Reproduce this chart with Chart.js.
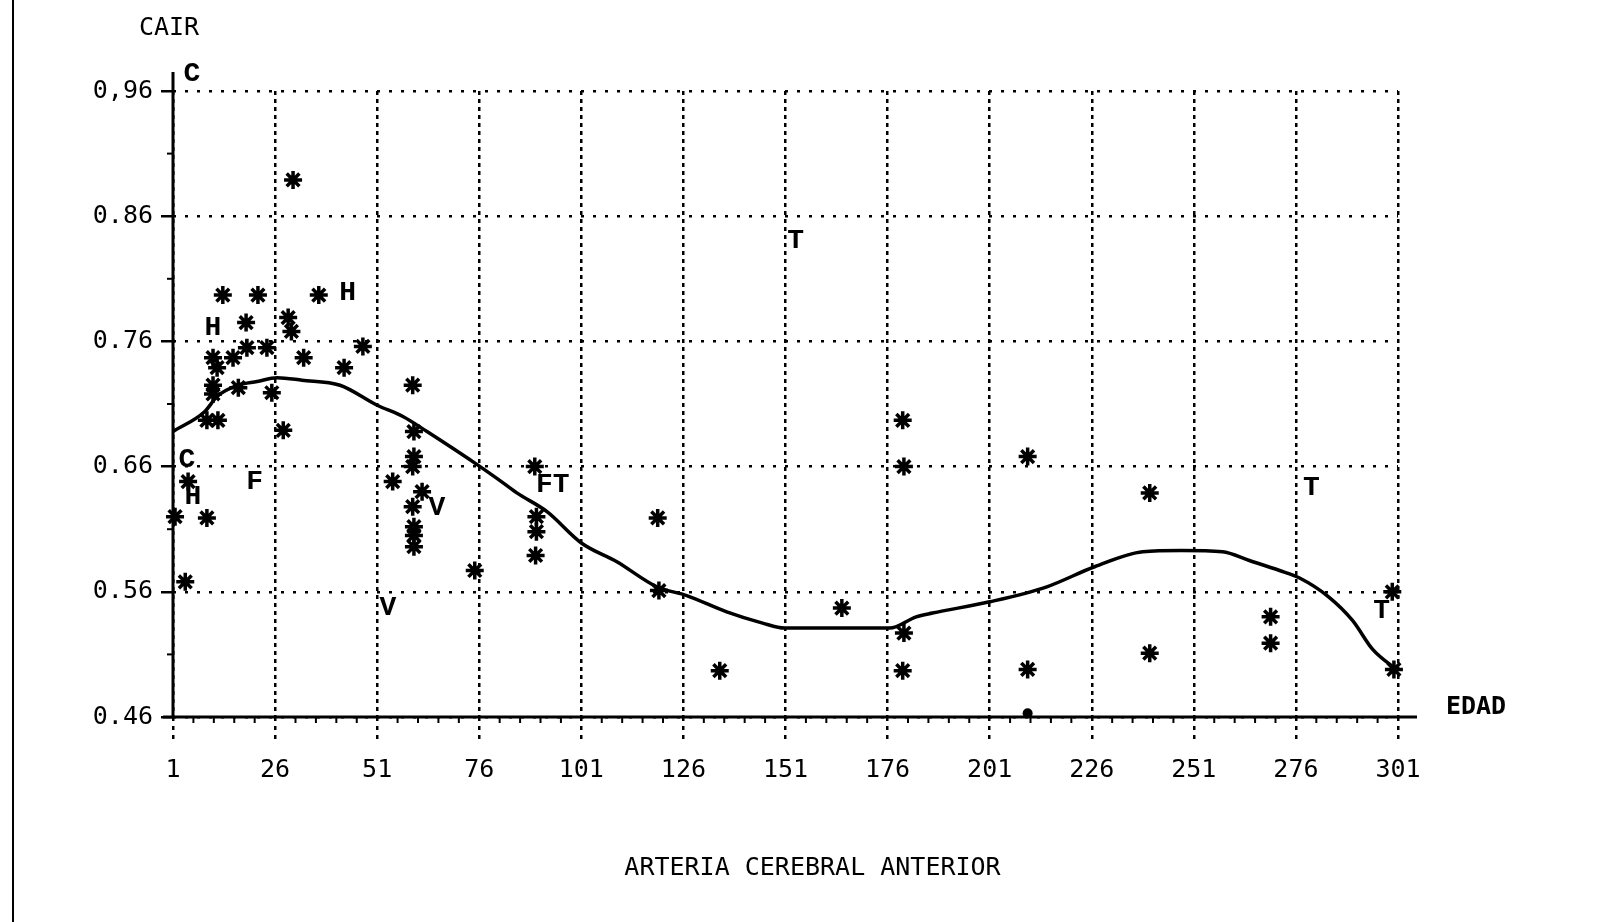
<!DOCTYPE html>
<html>
<head>
<meta charset="utf-8">
<title>Arteria cerebral anterior</title>
<script src="https://cdn.jsdelivr.net/npm/chart.js@4"></script>
<style>
  body { margin: 0; background: #fff; }
  #wrap { position: relative; width: 1624px; height: 922px; }
  #edge { position: absolute; left: 12px; top: 0; width: 2px; height: 922px; background: #000; }
</style>
</head>
<body>
<div id="wrap">
  <div id="edge"></div>
  <canvas id="chart" width="1624" height="922"></canvas>
</div>
<script>
// tick values and labels
const xTickValues = [1, 26, 51, 76, 101, 126, 151, 176, 201, 226, 251, 276, 301];
const yTickValues = [0.46, 0.56, 0.66, 0.76, 0.86, 0.96];
const yTickLabels = ['0.46', '0.56', '0.66', '0.76', '0.86', '0,96'];

// fitted curve
const curveX = [1, 8.8, 11.8, 16.9, 21.6, 26.5, 32.6, 41.9, 51, 57.3, 63.2, 76.2, 81, 85.2, 92.6, 101, 109.7, 119.5, 126.8, 136.6, 145.4, 150.8, 176.5, 183, 187, 201, 215, 226.7, 238.5, 248, 258, 264.6, 272, 276.9, 284, 289.9, 294.8, 301];
const curveY = [0.688, 0.704, 0.716, 0.725, 0.728, 0.731, 0.729, 0.725, 0.709, 0.700, 0.688, 0.660, 0.649, 0.639, 0.624, 0.599, 0.584, 0.564, 0.557, 0.544, 0.535, 0.531, 0.531, 0.540, 0.543, 0.552, 0.564, 0.580, 0.592, 0.593, 0.592, 0.585, 0.577, 0.571, 0.556, 0.537, 0.514, 0.497];

// asterisk points
const starX = [30.4, 13.2, 21.8, 36.7, 18.9, 29.2, 30, 24, 19.1, 15.7, 10.8, 11.8, 33, 47.5, 42.9, 10.8, 10.8, 17, 25.2, 9.3, 12, 28, 4.7, 1.5, 9.3, 4, 59.7, 60, 60, 59.7, 54.8, 62, 59.7, 60, 60, 60, 74.9, 89.6, 90, 90, 89.8, 119.7, 120, 134.9, 164.8, 179.7, 180, 180, 179.7, 210.3, 210.3, 240.2, 240.2, 269.8, 269.8, 299.6, 300];
const starY = [0.889, 0.797, 0.797, 0.797, 0.775, 0.779, 0.768, 0.755, 0.755, 0.747, 0.747, 0.739, 0.747, 0.756, 0.739, 0.725, 0.718, 0.723, 0.719, 0.697, 0.697, 0.689, 0.648, 0.620, 0.619, 0.568, 0.725, 0.688, 0.668, 0.660, 0.648, 0.640, 0.628, 0.612, 0.605, 0.596, 0.577, 0.660, 0.620, 0.608, 0.589, 0.619, 0.561, 0.497, 0.547, 0.697, 0.660, 0.527, 0.497, 0.668, 0.498, 0.639, 0.511, 0.540, 0.519, 0.560, 0.498];

// single round dot on the axis
const dotX = [210.3];
const dotY = [0.463];

// letter marks
const letterText = ['C', 'H', 'H', 'C', 'H', 'F', 'V', 'V', 'FT', 'T', 'T', 'T'];
const letterX = [5.6, 43.8, 10.8, 4.4, 5.9, 21, 65.6, 53.6, 94, 153.5, 279.8, 297];
const letterY = [0.974, 0.799, 0.771, 0.665, 0.636, 0.648, 0.627, 0.547, 0.645, 0.840, 0.643, 0.545];

const mono = '"DejaVu Sans Mono", "Liberation Mono", monospace';

function pts(xs, ys) {
    return xs.map((v, i) => ({ x: v, y: ys[i] }));
}

const axesPlugin = {
    id: 'axes',
    beforeDatasetsDraw(chart) {
        const { ctx, scales: { x, y } } = chart;
        const x0 = x.getPixelForValue(1);
        const y0 = y.getPixelForValue(0.46);
        const line = (a, b, c, d) => {
            ctx.beginPath();
            ctx.moveTo(a, b);
            ctx.lineTo(c, d);
            ctx.stroke();
        };
        ctx.save();
        ctx.strokeStyle = '#000';
        ctx.setLineDash([]);
        ctx.lineWidth = 3;
        line(x0 - 10, y0, x.getPixelForValue(301) + 19, y0);
        line(x0, y0, x0, y.getPixelForValue(0.96) - 19);
        // minor ticks
        ctx.lineWidth = 2;
        for (let v = 6; v < 301; v += 5) {
            if ((v - 1) % 25 === 0) continue;
            const px = x.getPixelForValue(v);
            line(px, y0, px, y0 + 6);
        }
        for (let v = 0.51; v < 0.96; v += 0.1) {
            const py = y.getPixelForValue(v);
            line(x0 - 6, py, x0, py);
        }
        ctx.restore();
    },
    afterDatasetsDraw(chart) {
        const { ctx, chartArea, scales: { x, y } } = chart;
        ctx.save();
        ctx.fillStyle = '#000';
        ctx.textAlign = 'center';
        ctx.textBaseline = 'middle';
        ctx.font = 'bold 28px "Liberation Mono", monospace';
        letterText.forEach((t, i) => {
            ctx.fillText(t, x.getPixelForValue(letterX[i]), y.getPixelForValue(letterY[i]));
        });
        ctx.font = '25px ' + mono;
        ctx.fillText('CAIR', chartArea.left - 4, chartArea.top - 63);
        ctx.fillText('ARTERIA CEREBRAL ANTERIOR', (chartArea.left + chartArea.right) / 2 + 27, chartArea.bottom + 151);
        ctx.font = 'bold 25px ' + mono;
        ctx.fillText('EDAD', x.getPixelForValue(301) + 78, chartArea.bottom - 10);
        ctx.restore();
    }
};

new Chart(document.getElementById('chart'), {
    type: 'scatter',
    data: {
        datasets: [
            {
                type: 'line',
                label: 'curva',
                data: pts(curveX, curveY),
                borderColor: '#000',
                borderWidth: 3.5,
                pointRadius: 0,
                fill: false,
                cubicInterpolationMode: 'monotone',
            },
            {
                label: 'casos',
                data: pts(starX, starY),
                pointStyle: 'star',
                radius: 9,
                borderWidth: 3.5,
                borderColor: '#000',
                backgroundColor: '#000',
                clip: false,
            },
            {
                label: 'punto',
                data: pts(dotX, dotY),
                pointStyle: 'circle',
                radius: 5,
                borderWidth: 0,
                backgroundColor: '#000',
                clip: false,
            },
        ],
    },
    options: {
        responsive: false,
        animation: false,
        layout: {
            padding: { left: 0, top: 91, right: 226, bottom: 40 },
        },
        plugins: {
            legend: { display: false },
            tooltip: { enabled: false },
            title: { display: false },
        },
        scales: {
            x: {
                type: 'linear',
                min: 1,
                max: 301,
                afterBuildTicks: (scale) => {
                    scale.ticks = xTickValues.map((v) => ({ value: v }));
                },
                afterFit: (scale) => {
                    scale.height = 165;
                },
                ticks: {
                    color: '#000',
                    font: { family: mono, size: 25 },
                    padding: 16,
                    maxRotation: 0,
                    autoSkip: false,
                },
                grid: {
                    color: '#000',
                    lineWidth: 2.5,
                    tickLength: 22,
                    tickColor: '#000',
                    tickWidth: 2.5,
                    tickBorderDash: [4, 5],
                },
                border: { display: false, dash: [4, 4] },
            },
            y: {
                type: 'linear',
                min: 0.46,
                max: 0.96,
                afterBuildTicks: (scale) => {
                    scale.ticks = yTickValues.map((v) => ({ value: v }));
                },
                afterFit: (scale) => {
                    scale.width = 173;
                },
                ticks: {
                    color: '#000',
                    font: { family: mono, size: 25 },
                    padding: 8,
                    callback: (v, i) => yTickLabels[i],
                },
                grid: {
                    color: '#000',
                    lineWidth: 2.5,
                    tickLength: 12,
                    tickColor: '#000',
                    tickWidth: 2.5,
                    tickBorderDash: [],
                },
                border: { display: false, dash: [3, 9] },
            },
        },
    },
    plugins: [axesPlugin],
});
</script>
</body>
</html>
